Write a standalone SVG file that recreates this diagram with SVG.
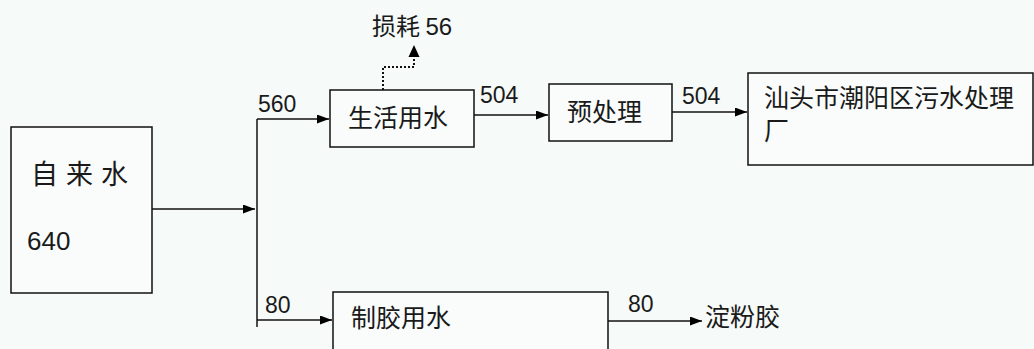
<svg xmlns="http://www.w3.org/2000/svg" width="1034" height="349" viewBox="0 0 1034 349">
<defs>
<marker id="ah" viewBox="0 0 12 9" refX="12" refY="4.5" markerWidth="12" markerHeight="9" markerUnits="userSpaceOnUse" orient="auto">
<path d="M0,0 L12,4.5 L0,9 Z" fill="#000"/>
</marker>
</defs>
<style>
.box{fill:#f9fcfb;stroke:#111;stroke-width:1.5}
.ln{fill:none;stroke:#111;stroke-width:1.5}
.dot{fill:none;stroke:#111;stroke-width:2;stroke-dasharray:2 2}
.cjk{font-family:"Noto Sans CJK SC","Noto Sans",sans-serif;font-size:25px;fill:#1a1a1a}
.num{font-family:"Liberation Sans","Noto Sans",sans-serif;font-size:23px;fill:#1a1a1a}
</style>
<rect width="1034" height="349" fill="#f6faf8"/>
<g id="connectors">
<path class="ln" d="M152,209 H255" marker-end="url(#ah)"/>
<path class="ln" d="M257,119 V327"/>
<path class="ln" d="M257,119 H329" marker-end="url(#ah)"/>
<path class="ln" d="M257,320 H332" marker-end="url(#ah)"/>
<path class="dot" d="M383,90 V67 H414 V57"/>
<path d="M408.5,57 L414,45 L419.5,57 Z" fill="#000"/>
<path class="ln" d="M474,115 H548" marker-end="url(#ah)"/>
<path class="ln" d="M672,112 H747" marker-end="url(#ah)"/>
<path class="ln" d="M608,321 H702" marker-end="url(#ah)"/>
<text class="num" x="258" y="112">560</text>
<text class="num" x="265" y="313">80</text>
<text class="num" x="480" y="103">504</text>
<text class="num" x="682" y="104">504</text>
<text class="num" x="628" y="312">80</text>
</g>
<g id="tapwater">
<rect class="box" x="11" y="127" width="141" height="166"/>
<text class="cjk" x="31" y="184" style="font-size:27px;letter-spacing:8px">自来水</text>
<text class="num" x="27" y="250" style="font-size:26px">640</text>
</g>
<g id="domestic">
<rect class="box" x="330" y="90" width="144" height="57"/>
<text class="cjk" x="348" y="127">生活用水</text>
</g>
<g id="loss">
<text class="cjk" x="372" y="35" style="font-size:24px">损耗 <tspan font-family="Liberation Sans">56</tspan></text>
</g>
<g id="pretreat">
<rect class="box" x="549" y="84" width="123" height="57"/>
<text class="cjk" x="567" y="121">预处理</text>
</g>
<g id="plant">
<rect class="box" x="748" y="73" width="285" height="92"/>
<text class="cjk" x="764" y="107">汕头市潮阳区污水处理</text>
<text class="cjk" x="764" y="140">厂</text>
</g>
<g id="glue">
<rect class="box" x="333" y="292" width="275" height="60"/>
<text class="cjk" x="351" y="327">制胶用水</text>
</g>
<g id="starch">
<text class="cjk" x="705" y="326">淀粉胶</text>
</g>
</svg>
